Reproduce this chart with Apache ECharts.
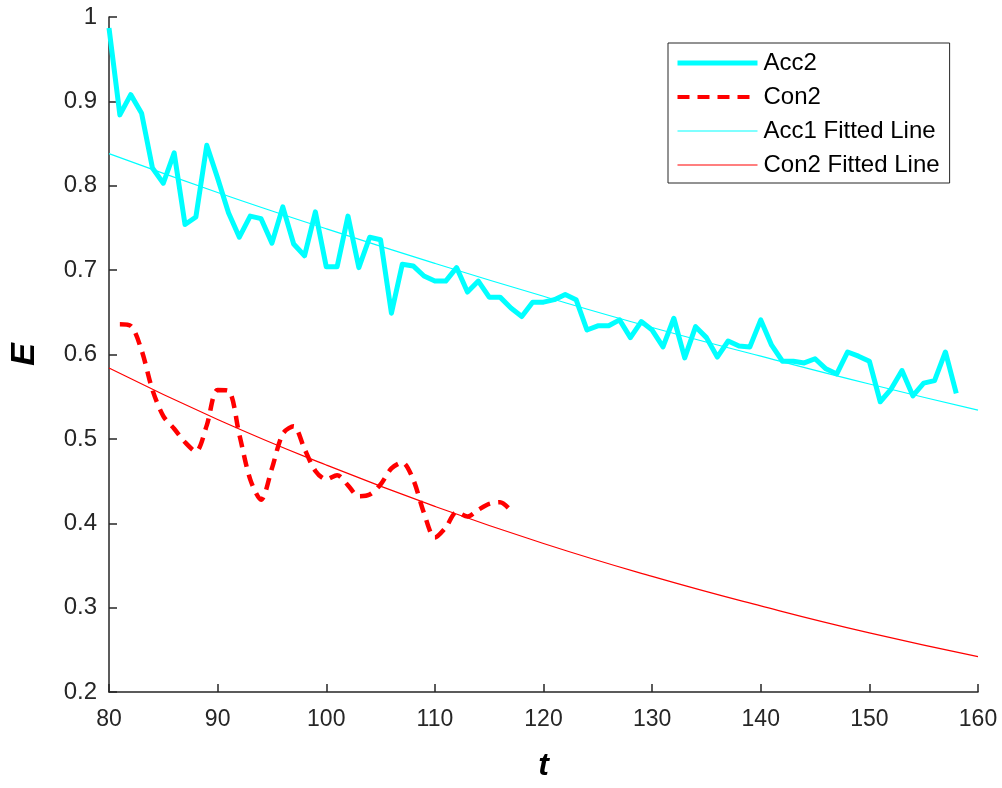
<!DOCTYPE html>
<html>
<head>
<meta charset="utf-8">
<script src="https://cdn.jsdelivr.net/npm/echarts@6/dist/echarts.min.js"></script>
<style>
html,body{margin:0;padding:0;background:#fff;}
#main{width:1002px;height:788px;}
</style>
</head>
<body>
<div id="main"></div>
<script>
// ---- data ----
var acc2T = [80,81,82,83,84,85,86,87,88,89,90,91,92,93,94,95,96,97,98,99,100,101,102,103,104,105,106,107,108,109,110,111,112,113,114,115,116,117,118,119,120,121,122,123,124,125,126,127,128,129,130,131,132,133,134,135,136,137,138,139,140,141,142,143,144,145,146,147,148,149,150,151,152,153,154,155,156,157,158];
var acc2E = [0.987,0.884,0.908,0.886,0.821,0.803,0.839,0.754,0.763,0.848,0.809,0.768,0.739,0.764,0.761,0.732,0.775,0.731,0.717,0.769,0.704,0.704,0.764,0.703,0.739,0.736,0.649,0.707,0.705,0.693,0.687,0.687,0.703,0.674,0.687,0.668,0.668,0.655,0.645,0.662,0.662,0.665,0.671,0.665,0.629,0.634,0.634,0.641,0.620,0.639,0.629,0.609,0.643,0.596,0.633,0.620,0.597,0.616,0.610,0.609,0.641,0.611,0.592,0.592,0.590,0.595,0.583,0.577,0.603,0.598,0.592,0.544,0.559,0.581,0.551,0.566,0.569,0.603,0.554];

var con2T = [81,82,83,84,85,86,87,88,89,90,91,92,93,94,95,96,97,98,99,100,101,102,103,104,105,106,107,108,109,110,111,112,113,114,115,116,117];
var con2E = [0.636,0.634,0.605,0.558,0.527,0.512,0.496,0.485,0.516,0.558,0.557,0.505,0.452,0.428,0.465,0.506,0.515,0.488,0.462,0.452,0.457,0.445,0.432,0.434,0.446,0.465,0.472,0.452,0.412,0.383,0.395,0.413,0.408,0.416,0.423,0.425,0.415];

var fitT = [80,90,100,110,120,130,140,150,160];
var acc1FitE = [0.838,0.792,0.749,0.708,0.669,0.632,0.598,0.565,0.534];
var con2FitE = [0.584,0.523,0.469,0.420,0.376,0.337,0.302,0.270,0.242];

var xTicks = [80,90,100,110,120,130,140,150,160];
var yTicks = [0.2,0.3,0.4,0.5,0.6,0.7,0.8,0.9,1];
var legendNames = ['Acc2', 'Con2', 'Acc1 Fitted Line', 'Con2 Fitted Line'];

function zip(a, b) { return a.map(function (v, i) { return [v, b[i]]; }); }

var axisColor = '#262626';
var chart = echarts.init(document.getElementById('main'), null, {renderer: 'canvas'});
chart.setOption({
  animation: false,
  backgroundColor: '#ffffff',
  grid: {left: 109, right: 24, top: 17, bottom: 96, containLabel: false, outerBoundsMode: 'none'},
  legend: {
    orient: 'vertical',
    left: 668, top: 43,
    padding: [8, 10, 6, 7],
    itemWidth: 80,
    itemHeight: 18,
    itemGap: 10,
    borderColor: axisColor,
    borderWidth: 1,
    backgroundColor: '#ffffff',
    itemStyle: {opacity: 0},
    textStyle: {fontFamily: 'Liberation Sans, Arial, sans-serif', fontSize: 24, color: '#000', padding: [0, 0, 0, 1]},
    data: [
      {name: legendNames[0], lineStyle: {width: 5}},
      {name: legendNames[1], lineStyle: {width: 4}},
      {name: legendNames[2], lineStyle: {width: 1.2}},
      {name: legendNames[3], lineStyle: {width: 1.2}}
    ]
  },
  xAxis: {
    type: 'value', min: xTicks[0], max: xTicks[xTicks.length - 1], interval: 10,
    name: 't', nameLocation: 'middle', nameGap: 58,
    nameTextStyle: {fontFamily: 'Liberation Sans, Arial, sans-serif', fontSize: 32, fontWeight: 'bold', fontStyle: 'italic', color: '#000'},
    axisLine: {lineStyle: {color: axisColor, width: 1.5}},
    axisTick: {inside: true, length: 8, lineStyle: {color: axisColor, width: 1.5}},
    axisLabel: {margin: 16, fontFamily: 'Liberation Sans Narrow, Arial Narrow, Liberation Sans, sans-serif', fontSize: 23, color: '#262626'},
    splitLine: {show: false}
  },
  yAxis: {
    type: 'value', min: 0.2, max: 1, interval: 0.1,
    name: 'E', nameLocation: 'middle', nameGap: 67, nameRotate: 90,
    nameTextStyle: {fontFamily: 'Liberation Sans, Arial, sans-serif', fontSize: 34, fontWeight: 'bold', fontStyle: 'italic', color: '#000'},
    axisLine: {show: true, lineStyle: {color: axisColor, width: 1.5}},
    axisTick: {show: true, inside: true, length: 8, lineStyle: {color: axisColor, width: 1.5}},
    axisLabel: {margin: 12, fontFamily: 'Liberation Sans, Arial, sans-serif', fontSize: 24, color: '#262626',
      formatter: function (v) { return String(Math.round(v * 10) / 10); }},
    splitLine: {show: false}
  },
  series: [
    {name: legendNames[0], type: 'line', data: zip(acc2T, acc2E), symbol: 'none', showSymbol: false,
      lineStyle: {color: '#00FFFF', width: 5, join: 'round'}, itemStyle: {color: '#00FFFF'}, z: 3},
    {name: legendNames[1], type: 'line', data: zip(con2T, con2E), symbol: 'none', showSymbol: false, smooth: 0.3,
      lineStyle: {color: '#FF0000', width: 4.5, type: [12, 8]}, itemStyle: {color: '#FF0000'}, z: 3},
    {name: legendNames[2], type: 'line', data: zip(fitT, acc1FitE), symbol: 'none', showSymbol: false, smooth: true,
      lineStyle: {color: '#00FFFF', width: 1.2}, itemStyle: {color: '#00FFFF'}, z: 4},
    {name: legendNames[3], type: 'line', data: zip(fitT, con2FitE), symbol: 'none', showSymbol: false, smooth: true,
      lineStyle: {color: '#FF0000', width: 1.2}, itemStyle: {color: '#FF0000'}, z: 4}
  ]
});
</script>
</body>
</html>
